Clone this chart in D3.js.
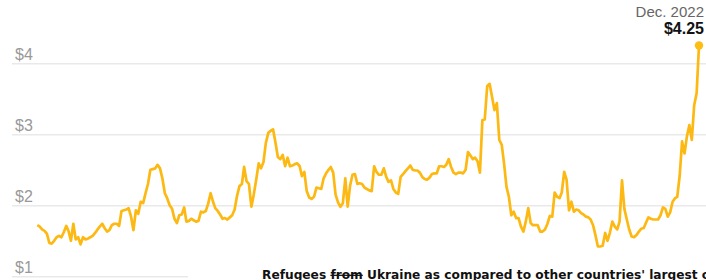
<!DOCTYPE html>
<html>
<head>
<meta charset="utf-8">
<script src="https://cdn.jsdelivr.net/npm/d3@7"></script>
<style>
  html, body { margin: 0; padding: 0; background: #fff; }
  svg { display: block; }
</style>
</head>
<body>
<div id="chart"></div>
<script>
// Average price of a dozen eggs, monthly, Jan. 2000 - Dec. 2022 (one row per year)
const firstMonth = new Date(2000, 0, 1);
const prices = [
  1.72, 1.70, 1.66, 1.64, 1.60, 1.47, 1.46, 1.50, 1.55, 1.57, 1.55, 1.62, // 2000
  1.71, 1.63, 1.50, 1.74, 1.52, 1.55, 1.45, 1.55, 1.52, 1.53, 1.55, 1.57, // 2001
  1.61, 1.66, 1.70, 1.74, 1.68, 1.63, 1.65, 1.72, 1.74, 1.74, 1.71, 1.92, // 2002
  1.93, 1.94, 1.96, 1.84, 1.65, 1.93, 1.88, 2.05, 2.03, 2.17, 2.30, 2.50, // 2003
  2.51, 2.52, 2.57, 2.52, 2.38, 2.17, 2.10, 2.00, 1.95, 1.81, 1.75, 1.86, // 2004
  1.87, 1.97, 1.77, 1.78, 1.81, 1.79, 1.77, 1.78, 1.91, 1.90, 1.92, 2.02, // 2005
  2.17, 2.05, 1.96, 1.92, 1.87, 1.81, 1.82, 1.80, 1.83, 1.86, 1.94, 2.13, // 2006
  2.27, 2.30, 2.54, 2.34, 2.30, 1.98, 2.15, 2.36, 2.59, 2.52, 2.61, 2.88, // 2007
  3.02, 3.05, 3.07, 2.88, 2.68, 2.65, 2.71, 2.55, 2.67, 2.55, 2.56, 2.58, // 2008
  2.59, 2.55, 2.41, 2.47, 2.20, 2.11, 2.09, 2.12, 2.25, 2.24, 2.23, 2.38, // 2009
  2.45, 2.50, 2.54, 2.46, 2.15, 2.04, 1.98, 2.03, 2.38, 1.98, 2.28, 2.43, // 2010
  2.44, 2.30, 2.31, 2.30, 2.25, 2.23, 2.21, 2.20, 2.55, 2.47, 2.43, 2.43, // 2011
  2.52, 2.40, 2.33, 2.35, 2.23, 2.18, 2.16, 2.40, 2.44, 2.48, 2.52, 2.56, // 2012
  2.50, 2.49, 2.49, 2.46, 2.40, 2.37, 2.36, 2.39, 2.44, 2.45, 2.45, 2.55, // 2013
  2.55, 2.54, 2.57, 2.65, 2.54, 2.46, 2.44, 2.46, 2.46, 2.45, 2.50, 2.75, // 2014
  2.70, 2.65, 2.67, 2.62, 2.46, 3.20, 3.21, 3.68, 3.71, 3.53, 3.34, 3.44, // 2015
  2.92, 2.85, 2.59, 2.26, 2.12, 1.86, 1.91, 1.82, 1.82, 1.70, 1.63, 1.77, // 2016
  1.96, 1.75, 1.72, 1.72, 1.72, 1.63, 1.63, 1.66, 1.74, 1.85, 1.84, 2.18, // 2017
  2.12, 2.10, 2.18, 2.47, 2.36, 1.93, 2.05, 1.91, 1.94, 1.93, 1.89, 1.87, // 2018
  1.84, 1.83, 1.80, 1.72, 1.58, 1.42, 1.42, 1.43, 1.61, 1.50, 1.62, 1.77, // 2019
  1.70, 1.66, 1.77, 2.35, 1.95, 1.80, 1.66, 1.56, 1.55, 1.58, 1.63, 1.67, // 2020
  1.68, 1.76, 1.83, 1.81, 1.80, 1.80, 1.80, 1.86, 1.97, 1.95, 1.84, 1.90, // 2021
  2.05, 2.10, 2.12, 2.42, 2.90, 2.73, 2.97, 3.13, 2.92, 3.41, 3.58, 4.25  // 2022
];
const yTicks = [1, 2, 3, 4];
const endLabel = 'Dec. 2022';
const endValueLabel = '$4.25';
const nextTitle = ['Refugees ', 'from', " Ukraine as compared to other countries' largest crises"];

const width = 706;
const height = 280;

const data = prices.map((v, i) => ({ date: d3.timeMonth.offset(firstMonth, i), value: v }));

const svg = d3.select('#chart')
  .append('svg')
  .attr('width', width)
  .attr('height', height);

// scales
const x = d3.scaleTime()
  .domain(d3.extent(data, d => d.date))
  .range([37.3, 699]);

const y = d3.scaleLinear()
  .domain([1, 4])
  .range([276.3, 63.3]);

// gridlines + dollar labels
const axis = svg.append('g')
  .attr('transform', 'translate(12,0)')
  .call(d3.axisRight(y).tickValues(yTicks).tickSize(width - 12).tickFormat(d => '$' + d));

axis.select('.domain').remove();
axis.selectAll('.tick line')
  .attr('stroke', '#e9e9e9')
  .attr('stroke-width', 1.5);
axis.selectAll('.tick text')
  .attr('x', 3)
  .attr('dy', -4)
  .attr('text-anchor', 'start')
  .attr('fill', '#999')
  .style('font-family', '"Liberation Sans", Arial, sans-serif')
  .style('font-size', '16px');

// price line
const line = d3.line()
  .x(d => x(d.date))
  .y(d => y(d.value));

svg.append('path')
  .datum(data)
  .attr('fill', 'none')
  .attr('stroke', '#fdb913')
  .attr('stroke-width', 2.7)
  .attr('stroke-linejoin', 'round')
  .attr('d', line);

// last point
const last = data[data.length - 1];
svg.append('circle')
  .attr('cx', x(last.date))
  .attr('cy', y(last.value))
  .attr('r', 4.2)
  .attr('fill', '#fdbd12');

svg.append('text')
  .attr('x', 704)
  .attr('y', 17)
  .attr('text-anchor', 'end')
  .attr('fill', '#666')
  .style('font-family', '"Liberation Sans", Arial, sans-serif')
  .style('font-size', '15px')
  .text(endLabel);

svg.append('text')
  .attr('x', 704)
  .attr('y', 34)
  .attr('text-anchor', 'end')
  .attr('fill', '#121212')
  .style('font-family', '"Liberation Sans", Arial, sans-serif')
  .style('font-size', '16px')
  .style('font-weight', 'bold')
  .text(endValueLabel);

// the next block of the page starts under the chart and covers the $1 rule
svg.append('rect')
  .attr('x', 188)
  .attr('y', 262)
  .attr('width', width - 188)
  .attr('height', height - 262)
  .attr('fill', '#fff');

const title = svg.append('text')
  .attr('x', 262)
  .attr('y', 279)
  .attr('fill', '#111')
  .style('font-family', '"DejaVu Sans", Verdana, sans-serif')
  .style('font-size', '12.2px')
  .style('font-weight', 'bold');

title.selectAll('tspan')
  .data(nextTitle)
  .enter()
  .append('tspan')
  .style('text-decoration', (d, i) => i === 1 ? 'line-through' : null)
  .text(d => d);
</script>
</body>
</html>
